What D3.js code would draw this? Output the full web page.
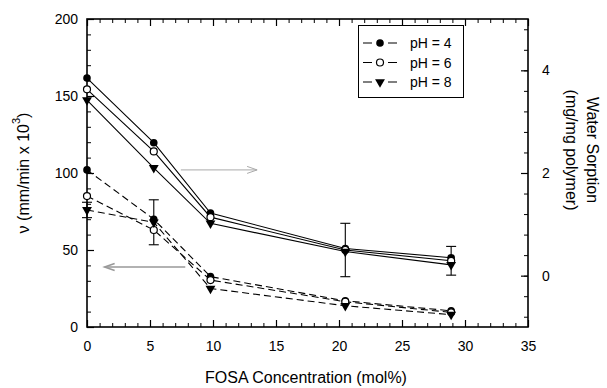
<!DOCTYPE html>
<html>
<head>
<meta charset="utf-8">
<script src="https://cdn.jsdelivr.net/npm/d3@7"></script>
<style>
	body { margin: 0; background: #fff; }
	text { font-family: "Liberation Sans", Arial, sans-serif; fill: #000; }
</style>
</head>
<body>
<script>
const WIDTH = 607;
const HEIGHT = 388;
const LEFT = 87;
const RIGHT = 528;
const TOP = 19;
const BOTTOM = 327;

// FOSA concentration (mol%)
const conc = [0, 5.3, 9.8, 20.5, 28.9];

// rate, left axis (dashed)
const ratePH4 = [102, 70, 32.7, 17, 10.5];
const ratePH6 = [85, 63, 30.5, 16.4, 9.5];
const ratePH8 = [76, 68, 25, 13.8, 8];
const rateErrPH8 = [5, 14.6, 0, 0, 0];

// water sorption, right axis (solid)
const sorpPH4 = [3.85, 2.59, 1.22, 0.53, 0.35];
const sorpPH6 = [3.63, 2.42, 1.14, 0.5, 0.29];
const sorpPH8 = [3.42, 2.10, 1.02, 0.47, 0.21];
const sorpErrPH6 = [0, 0, 0, 0.52, 0.28];

const xTicks = [0, 5, 10, 15, 20, 25, 30, 35];
const leftTicks = [0, 50, 100, 150, 200];
const rightTicks = [0, 2, 4];
const legendLabels = ['pH = 4', 'pH = 6', 'pH = 8'];
const markerKinds = ['filled', 'open', 'triangle'];

var drawMarker = function(g, kind, x, y){
	if (kind == 'filled') {
		g.append('circle').attr('cx', x).attr('cy', y).attr('r', 3.8).attr('fill', '#000');
	} else if (kind == 'open') {
		g.append('circle').attr('cx', x).attr('cy', y).attr('r', 3.5)
			.attr('fill', '#fff').attr('stroke', '#000').attr('stroke-width', 1.2);
	} else {
		g.append('path').attr('d', d3.symbol(d3.symbolTriangle, 42)())
			.attr('transform', 'translate(' + x + ',' + y + ') rotate(180)')
			.attr('fill', '#000');
	}
}

var drawGraph = function(){
	var svg = d3.select('body').append('svg')
		.attr('width', WIDTH).attr('height', HEIGHT);

	var x = d3.scaleLinear().domain([0, 35]).range([LEFT, RIGHT]);
	var yL = d3.scaleLinear().domain([0, 200]).range([BOTTOM, TOP]);
	var yR = d3.scaleLinear().domain([-1, 5]).range([BOTTOM, TOP]);

	// major + minor ticks, all pointing inward
	var addAxis = function(axis, major, minor, transform, labels, pad){
		svg.append('g').attr('transform', transform)
			.call(axis.tickValues(minor).tickSize(-4).tickFormat(''))
			.call(g => g.select('.domain').remove());
		var a = svg.append('g').attr('transform', transform)
			.call(axis.tickValues(major).tickSize(-7).tickPadding(pad)
				.tickFormat(labels ? d3.format('d') : ''))
			.call(g => g.select('.domain').remove());
		a.selectAll('text').attr('font-size', 14).attr('font-family', '"Liberation Sans", Arial, sans-serif');
		a.selectAll('line').attr('stroke-width', 1.2);
	}

	var xMinor = d3.range(0, 35.01, 1);
	addAxis(d3.axisBottom(x), xTicks, xMinor, 'translate(0,' + BOTTOM + ')', true, 14);
	addAxis(d3.axisTop(x), xTicks, xMinor, 'translate(0,' + TOP + ')', false, 3);
	addAxis(d3.axisLeft(yL), leftTicks, d3.range(0, 200.01, 10), 'translate(' + LEFT + ',0)', true, 9);
	addAxis(d3.axisRight(yR), rightTicks, d3.range(-0.8, 5.01, 0.4), 'translate(' + RIGHT + ',0)', true, 14);

	svg.append('rect')
		.attr('x', LEFT).attr('y', TOP)
		.attr('width', RIGHT - LEFT).attr('height', BOTTOM - TOP)
		.attr('fill', 'none').attr('stroke', '#000').attr('stroke-width', 1.6);

	// axis titles
	svg.append('text')
		.attr('transform', 'translate(306,377)')
		.attr('text-anchor', 'middle').attr('dominant-baseline', 'central')
		.attr('font-size', 16)
		.text('FOSA Concentration (mol%)');

	var lt = svg.append('text')
		.attr('transform', 'translate(23,173) rotate(-90)')
		.attr('text-anchor', 'middle').attr('dominant-baseline', 'central')
		.attr('font-size', 16);
	lt.append('tspan').text('ν (mm/min x 10');
	lt.append('tspan').attr('font-size', 11).attr('dy', -7).text('3');
	lt.append('tspan').attr('dy', 7).text(')');

	svg.append('text')
		.attr('transform', 'translate(592,150) rotate(90)')
		.attr('text-anchor', 'middle').attr('dominant-baseline', 'central')
		.attr('font-size', 16).text('Water Sorption');
	svg.append('text')
		.attr('transform', 'translate(571,150) rotate(90)')
		.attr('text-anchor', 'middle').attr('dominant-baseline', 'central')
		.attr('font-size', 16).text('(mg/mg polymer)');

	var rateSeries = [ratePH4, ratePH6, ratePH8];
	var rateErr = [null, null, rateErrPH8];
	var sorpSeries = [sorpPH4, sorpPH6, sorpPH8];
	var sorpErr = [null, sorpErrPH6, null];

	var plot = svg.append('g');

	var drawSeries = function(values, errs, yScale, dash, kind){
		var pts = conc.map((c, i) => ({x: c, y: values[i], e: errs ? errs[i] : 0}));
		var line = d3.line().x(d => x(d.x)).y(d => yScale(d.y));
		plot.append('path').attr('d', line(pts))
			.attr('fill', 'none').attr('stroke', '#000').attr('stroke-width', 1.1)
			.attr('stroke-dasharray', dash);
		pts.filter(d => d.e > 0).forEach(function(d){
			var y0 = yScale(d.y - d.e), y1 = yScale(d.y + d.e), cx = x(d.x);
			var eb = plot.append('g').attr('stroke', '#000').attr('stroke-width', 1.1);
			eb.append('line').attr('x1', cx).attr('x2', cx).attr('y1', y0).attr('y2', y1);
			eb.append('line').attr('x1', cx - 5).attr('x2', cx + 5).attr('y1', y0).attr('y2', y0);
			eb.append('line').attr('x1', cx - 5).attr('x2', cx + 5).attr('y1', y1).attr('y2', y1);
		});
		return pts;
	}

	var markerSets = [];
	for (var i = 0; i < 3; i++) {
		markerSets.push({kind: markerKinds[i], pts: drawSeries(sorpSeries[i], sorpErr[i], yR, null, markerKinds[i]), y: yR});
		markerSets.push({kind: markerKinds[i], pts: drawSeries(rateSeries[i], rateErr[i], yL, '7,4', markerKinds[i]), y: yL});
	}
	markerSets.forEach(function(s){
		s.pts.forEach(d => drawMarker(plot, s.kind, x(d.x), s.y(d.y)));
	});

	// arrows pointing to the axis each set belongs to
	var arrow = function(x1, x2, yv, color, w){
		var px1 = x(x1), px2 = x(x2), py = yL(yv);
		var dir = px2 > px1 ? 1 : -1;
		var g = svg.append('g').attr('stroke', color).attr('stroke-width', w).attr('fill', 'none');
		g.append('line').attr('x1', px1).attr('x2', px2).attr('y1', py).attr('y2', py);
		g.append('path').attr('d', 'M' + (px2 - dir * 10) + ',' + (py - 3.5) + 'L' + px2 + ',' + py + 'L' + (px2 - dir * 10) + ',' + (py + 3.5));
	}
	arrow(7.45, 13.5, 102, '#aaa', 1);
	arrow(7.8, 1.4, 39, '#999', 1.6);

	// legend
	var lg = svg.append('g');
	lg.append('rect').attr('x', 358.5).attr('y', 25.5).attr('width', 105).attr('height', 72)
		.attr('fill', '#fff').attr('stroke', '#000').attr('stroke-width', 1);
	legendLabels.forEach(function(label, i){
		var ly = 43 + i * 19.5;
		lg.append('line').attr('x1', 363).attr('x2', 397).attr('y1', ly).attr('y2', ly)
			.attr('stroke', '#000').attr('stroke-width', 1.2).attr('stroke-dasharray', '9,16');
		drawMarker(lg, markerKinds[i], 380, ly);
		lg.append('text').attr('x', 410).attr('y', ly).attr('dominant-baseline', 'central')
			.attr('font-size', 14).text(label);
	});
}

window.onload = function(){
	drawGraph();
}
</script>
</body>
</html>
